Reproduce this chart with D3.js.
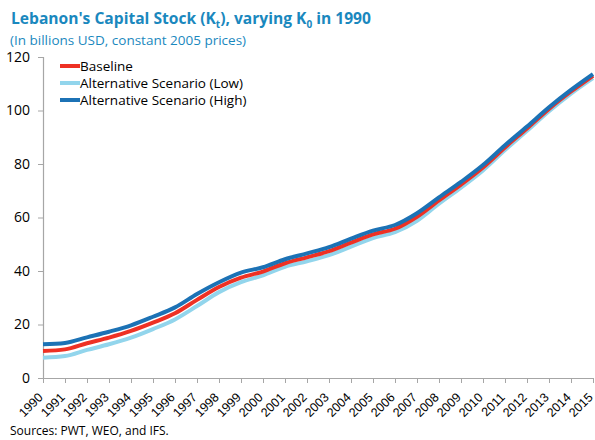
<!DOCTYPE html>
<html>
<head>
<meta charset="utf-8">
<script src="https://cdn.jsdelivr.net/npm/d3@7"></script>
<style>
  body { margin: 0; background: #fff; }
  svg { display: block; font-family: "Open Sans", "DejaVu Sans", sans-serif; }
</style>
</head>
<body>
<div id="chart"></div>
<script>
const years = d3.range(1990, 2016);
const baseline = [10.1, 10.7, 13.0, 15.1, 17.6, 20.7, 24.2, 29.2, 34.0, 37.5, 39.8, 42.9, 45.1,
  47.4, 50.6, 53.7, 55.8, 60.3, 66.4, 72.3, 78.7, 86.2, 93.3, 100.6, 107.1, 113.0];
const altLow = [7.6, 8.2, 10.5, 12.6, 15.1, 18.3, 21.9, 26.9, 32.1, 35.8, 38.4, 41.6, 43.6,
  45.9, 49.1, 52.3, 54.5, 58.8, 65.2, 71.2, 77.6, 85.2, 92.4, 99.7, 106.3, 112.1];
const altHigh = [12.6, 13.1, 15.2, 17.3, 19.7, 22.9, 26.4, 31.4, 35.8, 39.4, 41.4, 44.4, 46.6,
  48.9, 52.1, 55.1, 57.2, 61.6, 67.5, 73.3, 79.6, 87.0, 94.0, 101.2, 107.7, 113.6];
const yTicks = [0, 20, 40, 60, 80, 100, 120];

// drawn in this order: low, baseline, high on top
const series = [
  { name: 'Alternative Scenario (Low)', values: altLow, color: '#92d5ec' },
  { name: 'Baseline', values: baseline, color: '#ee3124' },
  { name: 'Alternative Scenario (High)', values: altHigh, color: '#1c72b5' }
];
const legendOrder = ['Baseline', 'Alternative Scenario (Low)', 'Alternative Scenario (High)'];

const width = 595, height = 440;
const margin = { top: 57, right: 2, bottom: 62, left: 43 };
const innerW = width - margin.left - margin.right;
const innerH = height - margin.top - margin.bottom;

const svg = d3.select('#chart').append('svg')
  .attr('width', width)
  .attr('height', height);

// title
const title = svg.append('text')
  .attr('x', 11).attr('y', 24)
  .style('fill', '#1a88be')
  .style('font-size', '15.6px')
  .style('font-weight', 700);
title.append('tspan').text("Lebanon's Capital Stock (K");
title.append('tspan').attr('dy', 4).style('font-size', '10px').text('t');
title.append('tspan').attr('dy', -4).text('), varying K');
title.append('tspan').attr('dy', 4).style('font-size', '10px').text('0');
title.append('tspan').attr('dy', -4).text(' in 1990');

svg.append('text')
  .attr('x', 10).attr('y', 45)
  .style('fill', '#1a88be')
  .style('font-size', '13.5px')
  .text('(In billions USD, constant 2005 prices)');

svg.append('text')
  .attr('x', 10).attr('y', 435)
  .style('fill', '#000')
  .style('font-size', '12px')
  .text('Sources: PWT, WEO, and IFS.');

const g = svg.append('g')
  .attr('transform', `translate(${margin.left},${margin.top})`);

const x = d3.scaleLinear()
  .domain([1990, 2015])
  .range([0, innerW]);

const y = d3.scaleLinear()
  .domain([0, 120])
  .range([innerH, 0]);

const yAxis = d3.axisLeft(y)
  .tickValues(yTicks)
  .tickSize(5)
  .tickPadding(8);

const yG = g.append('g').call(yAxis);
yG.select('.domain').attr('stroke', '#a6a6a6').attr('stroke-width', 1.2);
yG.selectAll('.tick line').attr('stroke', '#a6a6a6');
yG.selectAll('text')
  .style('fill', '#000')
  .style('font-size', '14px')
  .style('font-family', '"Open Sans", sans-serif');

const xAxis = d3.axisBottom(x)
  .tickValues(years)
  .tickFormat(d3.format('d'))
  .tickSize(5)
  .tickSizeOuter(0);

const xG = g.append('g')
  .attr('transform', `translate(0,${innerH})`)
  .call(xAxis);
xG.select('.domain').attr('stroke', '#a6a6a6').attr('stroke-width', 1.2);
xG.selectAll('.tick line').attr('stroke', '#a6a6a6');
xG.selectAll('text')
  .style('fill', '#000')
  .style('font-size', '12.5px')
  .style('text-anchor', 'end')
  .attr('dy', '0.35em')
  .attr('dx', 0)
  .attr('y', 0)
  .attr('transform', 'translate(-3,17) rotate(-45)');

const line = d3.line()
  .x((d, i) => x(years[i]))
  .y(d => y(d))
  .curve(d3.curveMonotoneX);

series.forEach(s => {
  g.append('path')
    .datum(s.values)
    .attr('d', line)
    .style('fill', 'none')
    .style('stroke', s.color)
    .style('stroke-width', 4)
    .style('stroke-linejoin', 'round');
});

// legend
const legend = svg.append('g').attr('transform', 'translate(60,66)');
legendOrder.forEach((name, i) => {
  const s = series.find(d => d.name === name);
  const row = legend.append('g').attr('transform', `translate(0,${i * 17})`);
  row.append('line')
    .attr('x1', 0).attr('x2', 20)
    .attr('y1', 0).attr('y2', 0)
    .style('stroke', s.color)
    .style('stroke-width', 4);
  row.append('text')
    .attr('x', 20).attr('y', 0)
    .attr('dy', '0.35em')
    .style('fill', '#000')
    .style('font-size', '13.5px')
    .text(name);
});
</script>
</body>
</html>
